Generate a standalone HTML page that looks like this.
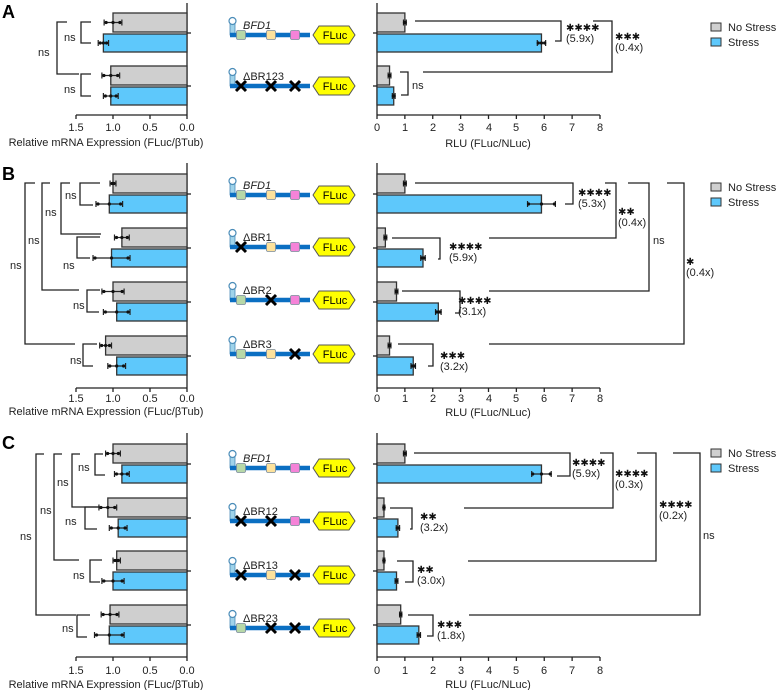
<!DOCTYPE html>
<html><head><meta charset="utf-8"><style>
html,body{margin:0;padding:0;background:#fff;}
svg{display:block;font-family:"Liberation Sans",Arial,sans-serif;}
.t{font-size:11px;fill:#222;}
.s{font-size:10px;fill:#111;font-family:"DejaVu Sans",sans-serif;}
.b{font-size:18px;font-weight:bold;fill:#000;}
.f{font-size:11px;fill:#000;text-anchor:middle;}
</style></head><body>
<svg id="g" width="777" height="690" viewBox="0 0 777 690" xmlns="http://www.w3.org/2000/svg">
<g id="shapes"></g>
<text class="b" x="2" y="18">A</text>
<text class="b" x="2" y="180">B</text>
<text class="b" x="2" y="449">C</text>
<g class="t"><text x="728" y="31">No Stress</text><text x="728" y="46">Stress</text>
<text x="728" y="191">No Stress</text><text x="728" y="206">Stress</text>
<text x="728" y="457">No Stress</text><text x="728" y="472">Stress</text></g>
<g class="t" text-anchor="middle">
<text x="76" y="131">1.5</text><text x="113" y="131">1.0</text><text x="150" y="131">0.5</text><text x="187" y="131">0.0</text>
<text x="106" y="146">Relative mRNA Expression (FLuc/βTub)</text>
<text x="377" y="131">0</text><text x="405" y="131">1</text><text x="433" y="131">2</text><text x="461" y="131">3</text><text x="489" y="131">4</text><text x="516" y="131">5</text><text x="544" y="131">6</text><text x="572" y="131">7</text><text x="600" y="131">8</text>
<text x="488" y="147">RLU (FLuc/NLuc)</text>
<text x="76" y="402">1.5</text><text x="113" y="402">1.0</text><text x="150" y="402">0.5</text><text x="187" y="402">0.0</text>
<text x="106" y="415">Relative mRNA Expression (FLuc/βTub)</text>
<text x="377" y="402">0</text><text x="405" y="402">1</text><text x="433" y="402">2</text><text x="461" y="402">3</text><text x="489" y="402">4</text><text x="516" y="402">5</text><text x="544" y="402">6</text><text x="572" y="402">7</text><text x="600" y="402">8</text>
<text x="488" y="416">RLU (FLuc/NLuc)</text>
<text x="76" y="674">1.5</text><text x="113" y="674">1.0</text><text x="150" y="674">0.5</text><text x="187" y="674">0.0</text>
<text x="106" y="688">Relative mRNA Expression (FLuc/βTub)</text>
<text x="377" y="674">0</text><text x="405" y="674">1</text><text x="433" y="674">2</text><text x="461" y="674">3</text><text x="489" y="674">4</text><text x="516" y="674">5</text><text x="544" y="674">6</text><text x="572" y="674">7</text><text x="600" y="674">8</text>
<text x="488" y="688">RLU (FLuc/NLuc)</text>
</g>
<g class="t">
<text x="64" y="41">ns</text><text x="64" y="93">ns</text><text x="38" y="56">ns</text>
<text x="65" y="199">ns</text><text x="63" y="269">ns</text><text x="45" y="216">ns</text><text x="28" y="244">ns</text><text x="10" y="269">ns</text><text x="73" y="309">ns</text><text x="70" y="364">ns</text>
<text x="78" y="471">ns</text><text x="65" y="525">ns</text><text x="57" y="486">ns</text><text x="40" y="514">ns</text><text x="20" y="540">ns</text><text x="73" y="579">ns</text><text x="62" y="632">ns</text>
<text x="412" y="89">ns</text><text x="653" y="244">ns</text><text x="703" y="539">ns</text>
<text x="566" y="42">(5.9x)</text><text x="615" y="51">(0.4x)</text>
<text x="578" y="207">(5.3x)</text><text x="618" y="226">(0.4x)</text><text x="686" y="276">(0.4x)</text>
<text x="449" y="261">(5.9x)</text><text x="458" y="315">(3.1x)</text><text x="440" y="370">(3.2x)</text>
<text x="572" y="477">(5.9x)</text><text x="615" y="488">(0.3x)</text><text x="659" y="519">(0.2x)</text>
<text x="420" y="531">(3.2x)</text><text x="417" y="584">(3.0x)</text><text x="437" y="639">(1.8x)</text>
</g>
<g class="s">
<text x="566" y="31">✱✱✱✱</text><text x="615" y="40">✱✱✱</text>
<text x="578" y="196">✱✱✱✱</text><text x="618" y="215">✱✱</text><text x="686" y="265">✱</text>
<text x="449" y="250">✱✱✱✱</text><text x="458" y="304">✱✱✱✱</text><text x="440" y="359">✱✱✱</text>
<text x="572" y="466">✱✱✱✱</text><text x="615" y="477">✱✱✱✱</text><text x="659" y="508">✱✱✱✱</text>
<text x="420" y="520">✱✱</text><text x="417" y="573">✱✱</text><text x="437" y="628">✱✱✱</text>
</g>
<g class="t">
<text x="243" y="29" font-style="italic">BFD1</text><text x="243" y="80">ΔBR123</text>
<text x="243" y="189" font-style="italic">BFD1</text><text x="243" y="241">ΔBR1</text><text x="243" y="294">ΔBR2</text><text x="243" y="348">ΔBR3</text>
<text x="243" y="462" font-style="italic">BFD1</text><text x="243" y="515">ΔBR12</text><text x="243" y="569">ΔBR13</text><text x="243" y="622">ΔBR23</text>
</g>
<g class="f">
<text x="335" y="39">FLuc</text><text x="335" y="90">FLuc</text>
<text x="335" y="199">FLuc</text><text x="335" y="251">FLuc</text><text x="335" y="304">FLuc</text><text x="335" y="358">FLuc</text>
<text x="335" y="472">FLuc</text><text x="335" y="525">FLuc</text><text x="335" y="579">FLuc</text><text x="335" y="632">FLuc</text>
</g>
</svg>
<script>
var NS="http://www.w3.org/2000/svg",G=document.getElementById("shapes");
function el(t,a){var e=document.createElementNS(NS,t);for(var k in a)e.setAttribute(k,a[k]);G.appendChild(e);return e;}
function ln(x1,y1,x2,y2,w,c){el("line",{x1:x1,y1:y1,x2:x2,y2:y2,stroke:c||"#222","stroke-width":w||1.3});}
function pl(p,w){el("polyline",{points:p,fill:"none",stroke:"#222","stroke-width":w||1.3});}
var GR="#cfcfcf",BL="#5ec8fb";
[[23,38],[183,198],[449,464]].forEach(function(l){el("rect",{x:711,y:l[0],width:10,height:8,fill:GR,stroke:"#333","stroke-width":1});el("rect",{x:711,y:l[1],width:10,height:8,fill:BL,stroke:"#333","stroke-width":1});});
function panel(rows,lv,rv,top,bot,lerr,rerr){
 ln(187,top,187,bot);ln(76,bot,187,bot);
 [76,113,150,187].forEach(function(x){ln(x,bot,x,bot+4);});
 ln(377,top,377,bot);ln(377,bot,600,bot);
 for(var i=0;i<=8;i++){var x=377+i*27.875;ln(x,bot,x,bot+4);}
 for(var r=0;r<rows.length;r++){
  var y=rows[r];
  var pairs=[[y,y+19,GR],[y+21,y+39,BL]];
  pairs.forEach(function(p,j){
   var v=lv[r*2+j],x=187-v*74,e=lerr[r*2+j]||0.1,cy=(p[0]+p[1])/2;
   el("rect",{x:x,y:p[0],width:187-x,height:p[1]-p[0],fill:p[2],stroke:"#333","stroke-width":1.3});
   var a=187-(v+e)*74,b=187-(v-e)*74;ln(a,cy,b,cy,1.2);ln(a,cy-3,a,cy+3,1.2);ln(b,cy-3,b,cy+3,1.2);
   [a+2,(a+b)/2,b-2].forEach(function(q){el("circle",{cx:q,cy:cy,r:1.6,fill:"#111"});});
   var rv2=rv[r*2+j],rx=377+rv2*27.875,re=rerr[r*2+j]||0.08;
   el("rect",{x:377,y:p[0],width:rx-377,height:p[1]-p[0],fill:p[2],stroke:"#333","stroke-width":1.3});
   var ra=rx-re*27.875,rb=rx+re*27.875;ln(ra,cy,rb,cy,1.2);ln(ra,cy-3,ra,cy+3,1.2);ln(rb,cy-3,rb,cy+3,1.2);
   [ra+1,rx,rb-1].forEach(function(q){el("circle",{cx:q,cy:cy,r:1.6,fill:"#111"});});
  });
  ln(187,y+20,191,y+20);ln(373,y+20,377,y+20);
 }
}
panel([13,66],[1.0,1.13,1.03,1.03],[1.0,5.9,0.45,0.6],3,115,[0.12,0.07,0.12,0.1],[0.05,0.15,0.05,0.05]);
panel([174,228,282,336],[1.0,1.05,0.88,1.02,1.0,0.95,1.1,0.95],[1.0,5.9,0.3,1.65,0.7,2.2,0.45,1.3],163,388,[0.04,0.18,0.1,0.25,0.15,0.18,0.08,0.12],[0.05,0.5,0.05,0.08,0.05,0.1,0.05,0.08]);
panel([444,498,551,605],[1.0,0.88,1.07,0.93,0.95,1.0,1.04,1.05],[1.0,5.9,0.25,0.75,0.25,0.7,0.85,1.5],433,657,[0.1,0.1,0.12,0.12,0.05,0.15,0.12,0.2],[0.05,0.35,0.03,0.06,0.03,0.05,0.04,0.06]);
function br(x,y1,y2,l1,l2){pl((x+l1)+","+y1+" "+x+","+y1+" "+x+","+y2+" "+(x+l2)+","+y2);}
br(81,22,43,10,10);br(81,74,96,10,10);br(57,22,74,10,22);
br(80,183,205,20,13);br(77,237,258,23,13);br(61,183,234,9,40);br(42,183,290,8,37);br(25,183,344,10,50);br(87,290,312,13,12);br(83,344,366,14,10);
br(95,454,475,8,10);br(85,507,529,16,12);br(72,454,507,8,30);br(54,454,560,8,25);br(36,454,615,8,40);br(90,560,582,12,10);br(77,615,637,13,10);
function rb(x0,xe,y1,y2,xb){pl(x0+","+y1+" "+xe+","+y1+" "+xe+","+y2+" "+xb+","+y2);}
rb(415,561,21,41,555);rb(593,612,21,72,423);pl("400,72 408,72 408,95 401,95");
rb(415,573,183,204,565);rb(605,616,183,238,489);rb(628,649,183,291,489);rb(667,684,183,344,489);
rb(392,440,238,259,438);rb(402,460,291,313,455);rb(398,433,344,366,428);
rb(414,570,453,476,557);rb(600,613,453,508,464);rb(637,656,453,561,468);rb(673,700,453,615,469);
rb(390,412,508,529,410);rb(397,413,561,582,405);rb(408,433,615,636,427);
function con(y,del){
 el("rect",{x:230,y:y-12,width:5,height:12,fill:"#9fd3ea",stroke:"#4a8cb8","stroke-width":0.8});
 el("circle",{cx:232.5,cy:y-14,r:3.5,fill:"#fff",stroke:"#4a8cb8","stroke-width":1.2});
 ln(230,y,310,y,4.5,"#0b6fc2");
 var xs=[241,271,295],cols=["#b7d8a8","#fde29c","#f583d8"];
 for(var i=0;i<3;i++){
  if(del.indexOf(i+1)>=0){ln(xs[i]-5,y-5,xs[i]+5,y+5,3,"#000");ln(xs[i]-5,y+5,xs[i]+5,y-5,3,"#000");}
  else el("rect",{x:xs[i]-4.5,y:y-4.5,width:9,height:9,rx:1.5,fill:cols[i],stroke:"#7a8a9a","stroke-width":0.8});
 }
 el("polygon",{points:"313,"+y+" 319,"+(y-9)+" 349,"+(y-9)+" 355,"+y+" 349,"+(y+9)+" 319,"+(y+9),fill:"#ffff00",stroke:"#555","stroke-width":1});
}
con(35,[]);con(86,[1,2,3]);
con(195,[]);con(247,[1]);con(300,[2]);con(354,[3]);
con(468,[]);con(521,[1,2]);con(575,[1,3]);con(628,[2,3]);
</script>
</body></html>
